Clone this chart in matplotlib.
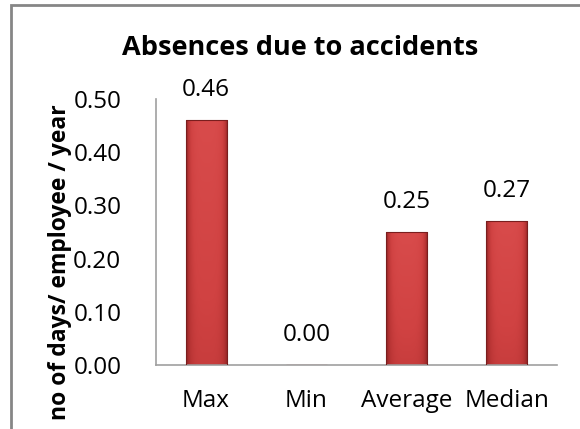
import numpy as np
import matplotlib.pyplot as plt
from matplotlib.patches import Rectangle
from matplotlib.colors import LinearSegmentedColormap

categories = ['Max', 'Min', 'Average', 'Median']
values = [0.46, 0.00, 0.25, 0.27]
yticks = [0.0, 0.1, 0.2, 0.3, 0.4, 0.5]

plt.rcParams['font.family'] = ['Open Sans', 'DejaVu Sans']

W, H = 580, 429
fig = plt.figure(figsize=(W / 100, H / 100), dpi=100)

# outer chart frame (runs off the right and bottom edges)
fig.patches.append(Rectangle((10.5 / W, -0.1), 1.2, 1.1 - 5.5 / H,
                             transform=fig.transFigure, fill=False,
                             edgecolor='#868686', linewidth=2.0))

left, right = 156 / W, 557 / W
bottom, top = 1 - 365 / H, 1 - 99 / H
ax = fig.add_axes([left, bottom, right - left, top - bottom])

# shaded red fill: darker at the sides and towards the bottom
cmap = LinearSegmentedColormap.from_list('bar', ['#8E2424', '#B83434', '#D04242', '#D84B4B'])
gx = 1 - np.abs(np.linspace(-1, 1, 60)) ** 4
gy = np.linspace(0.55, 1.0, 100)[:, None]
shade = gx[None, :] * gy

width = 0.41
x = np.arange(len(categories))
bars = ax.bar(x, values, width=width, color='none', edgecolor='#7A1E1E',
              linewidth=0.8, zorder=3)
for b in bars:
    if b.get_height() <= 0:
        continue
    im = ax.imshow(shade, cmap=cmap, vmin=0, vmax=1, origin='lower',
                   extent=[b.get_x(), b.get_x() + b.get_width(), 0, b.get_height()],
                   aspect='auto', zorder=2, interpolation='bilinear')
    im.set_clip_path(b)

for i, v in enumerate(values):
    ax.annotate(f'{v:.2f}', (i, v), xytext=(0, 13), textcoords='offset points',
                ha='center', va='bottom', fontsize=17.5)

ax.set_xlim(-0.5, len(categories) - 0.5)
ax.set_ylim(0, 0.5)
ax.set_yticks(yticks)
ax.set_yticklabels([f'{t:.2f}' for t in yticks])
ax.set_xticks(x)
ax.set_xticklabels(categories)
ax.tick_params(axis='both', length=0, labelsize=17.5)
ax.tick_params(axis='y', pad=25)
ax.tick_params(axis='x', pad=17)

for s in ['top', 'right']:
    ax.spines[s].set_visible(False)
for s in ['left', 'bottom']:
    ax.spines[s].set_color('#A0A0A0')
    ax.spines[s].set_linewidth(1.2)

fig.text(300 / W, 1 - 48 / H, 'Absences due to accidents', ha='center',
         va='center', fontsize=19.5, fontweight='bold')
fig.text(60 / W, 1 - 262 / H, 'no of days/ employee / year', ha='center',
         va='center', rotation=90, fontsize=16.5, fontweight='bold')

fig.savefig('out.png', dpi=100)
